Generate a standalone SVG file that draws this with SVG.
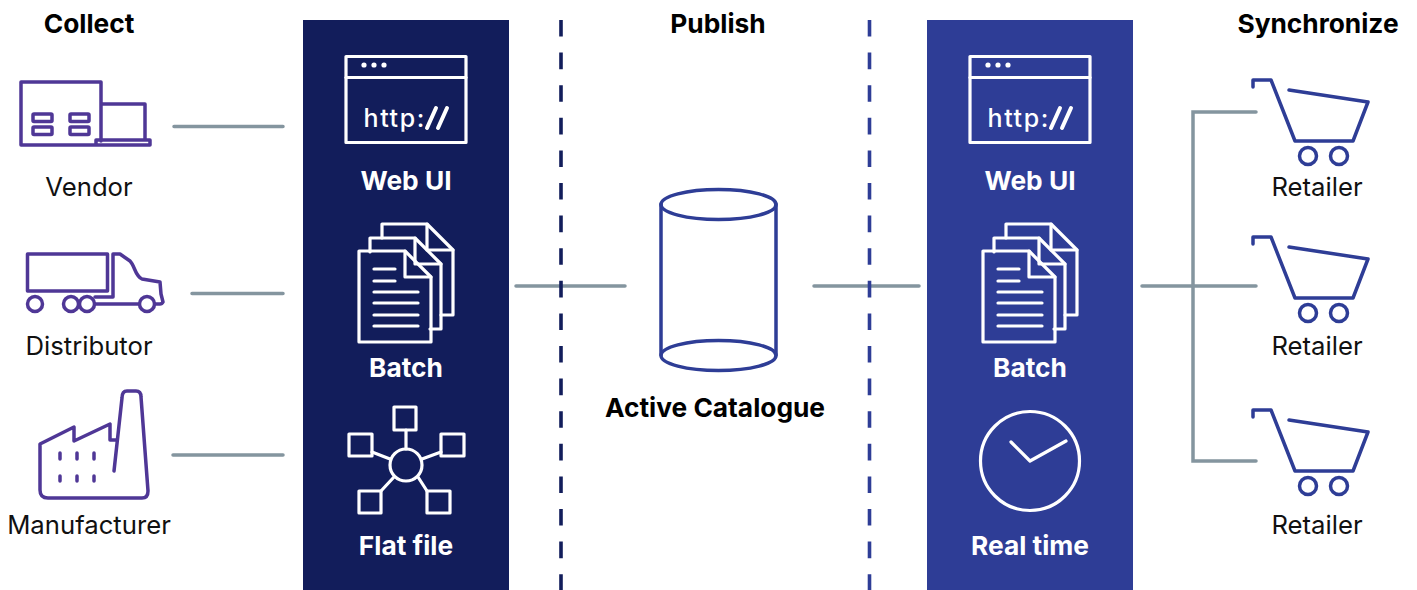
<svg xmlns="http://www.w3.org/2000/svg" xmlns:xlink="http://www.w3.org/1999/xlink" width="1417" height="590" viewBox="0 0 1417 590">
<style>
text{font-family:Inter,"Liberation Sans",sans-serif;text-anchor:middle}
.h{font-size:26.300px;font-weight:700;fill:#000}
.l{font-size:25.700px;font-weight:400;fill:#111}
.w{font-size:26.300px;font-weight:700;fill:#fff}
.b{font-size:26.300px;font-weight:700;fill:#000}
.p{fill:none;stroke:#4f3796;stroke-width:3.5;stroke-linejoin:round;stroke-linecap:round}
.c{fill:none;stroke:#2e3d96;stroke-width:3.5;stroke-linejoin:round;stroke-linecap:round}
.i{fill:none;stroke:#fff;stroke-width:3.2;stroke-linejoin:round;stroke-linecap:round}
.f{fill:#fff;stroke:none}
.t{font-size:25px;font-weight:500;fill:#fff;letter-spacing:1.600px;text-anchor:start}
.s{fill:none;stroke:#fff;stroke-width:4;stroke-linecap:round}
.g{fill:none;stroke:#84959f;stroke-width:3.5;stroke-linecap:round;stroke-linejoin:miter}
.d{fill:none;stroke-width:3.6;stroke-dasharray:16.600 16}
</style>
<defs>
<g id="web">
<rect class="i" x="346" y="56.500" width="120" height="86"/>
<path class="i" d="M346 77.500H466"/>
<circle class="f" cx="364" cy="65" r="2.600"/><circle class="f" cx="374" cy="65" r="2.600"/><circle class="f" cx="384" cy="65" r="2.600"/>
<text class="t" x="363.500" y="127">http:</text>
<path class="s" d="M427 128L436 108M438 128L447 108"/>
</g>
<g id="batch">
<path class="i" d="M382 238V224H427L453 250V315H441"/><path class="i" d="M427 224V250H453"/>
<path class="i" d="M370 252V238H415L441 264V329H430"/><path class="i" d="M415 238V264H441"/>
<path class="i" d="M359 251H405L431 277V342H359Z"/><path class="i" d="M405 251V277H431"/>
<path class="i" d="M374 269H395M374 281H395M374 292H418M374 303H418M374 315H418M374 326H418"/>
</g>
<g id="cart">
<path class="c" d="M1253 87V80H1271L1295 141H1353L1368 102L1289 90"/>
<circle class="c" cx="1308" cy="156" r="8.500"/><circle class="c" cx="1339" cy="156" r="8.500"/>
</g>
</defs>
<rect x="303" y="20" width="206" height="570" fill="#121d5b"/>
<rect x="927" y="20" width="206" height="570" fill="#2e3d96"/>
<g id="connectors">
<path class="g" d="M174 126.500H283M192 293.500H283M173 455H283M516 286H625M814 286H919M1142 286H1256M1193 286V112H1256M1193 286V461H1256"/>
<path class="d" d="M561 20V590" stroke="#121d5b"/>
<path class="d" d="M869.500 20V590" stroke="#2e3d96"/>
</g>
<g id="headers"><text class="h" x="89" y="33">Collect</text><text class="h" x="718" y="33">Publish</text><text class="h" x="1318" y="33">Synchronize</text></g>
<g id="vendor">
<path class="p" d="M101 141V82H21V145H150V140H96V145M101 104H145V140"/>
<rect class="p" x="33" y="114" width="19" height="7.500" rx="1"/><rect class="p" x="33" y="127" width="19" height="7.500" rx="1"/>
<rect class="p" x="70" y="114" width="19" height="7.500" rx="1"/><rect class="p" x="70" y="127" width="19" height="7.500" rx="1"/>
<text class="l" x="89" y="196">Vendor</text>
</g>
<g id="distributor">
<rect class="p" x="27.500" y="254" width="80" height="37"/>
<path class="p" d="M95 297H113V254H120L130 261C135 266 135 276 142 279L160 282L161 294L163 302Q162 304 160 304H155M138 304H95"/>
<circle class="p" cx="35" cy="304" r="7.500"/><circle class="p" cx="71" cy="304" r="7.500"/><circle class="p" cx="87" cy="304" r="7.500"/><circle class="p" cx="147" cy="304" r="7.500"/>
<text class="l" x="89" y="355">Distributor</text>
</g>
<g id="manufacturer">
<path class="p" d="M114 471L122 398Q122 391 127 391H136Q141 391 141 397L148 491Q148 498 142 498H48Q40 498 40 490V444L74 427V441L110 424V440H116"/>
<path class="p" d="M60 453V459M60 476V481M77 453V459M77 476V481M94 453V459M94 476V481"/>
<text class="l" x="89" y="534">Manufacturer</text>
</g>
<g id="collect-webui"><use xlink:href="#web"/><text class="w" x="406" y="190">Web UI</text></g>
<g id="collect-batch"><use xlink:href="#batch"/><text class="w" x="406" y="377">Batch</text></g>
<g id="flatfile">
<circle class="i" cx="406" cy="465" r="16"/>
<rect class="i" x="394" y="407" width="22" height="23"/>
<rect class="i" x="349" y="434" width="23" height="22"/>
<rect class="i" x="441" y="434" width="23" height="22"/>
<rect class="i" x="359" y="491" width="22" height="22"/>
<rect class="i" x="427" y="491" width="23" height="22"/>
<path class="i" d="M406 430V449M372 452L390 459M441 452L422 459M381 491L394 477M427 491L418 477"/>
<text class="w" x="406" y="555">Flat file</text>
</g>
<g id="catalogue">
<path class="c" d="M661 204V355M776 204V355"/>
<ellipse class="c" cx="718.500" cy="204.500" rx="57.500" ry="15"/>
<ellipse class="c" cx="718.500" cy="355.500" rx="57.500" ry="15"/>
<text class="b" x="715" y="417">Active Catalogue</text>
</g>
<g id="sync-webui"><use xlink:href="#web" x="624"/><text class="w" x="1030" y="190">Web UI</text></g>
<g id="sync-batch"><use xlink:href="#batch" x="624"/><text class="w" x="1030" y="377">Batch</text></g>
<g id="realtime">
<circle class="i" cx="1030" cy="461" r="49.500"/>
<path class="i" d="M1011 442L1030 461L1066 441"/>
<text class="w" x="1030" y="555">Real time</text>
</g>
<g id="retailer1"><use xlink:href="#cart"/><text class="l" x="1317" y="196">Retailer</text></g>
<g id="retailer2"><use xlink:href="#cart" y="157"/><text class="l" x="1317" y="355">Retailer</text></g>
<g id="retailer3"><use xlink:href="#cart" y="330"/><text class="l" x="1317" y="534">Retailer</text></g>
</svg>
